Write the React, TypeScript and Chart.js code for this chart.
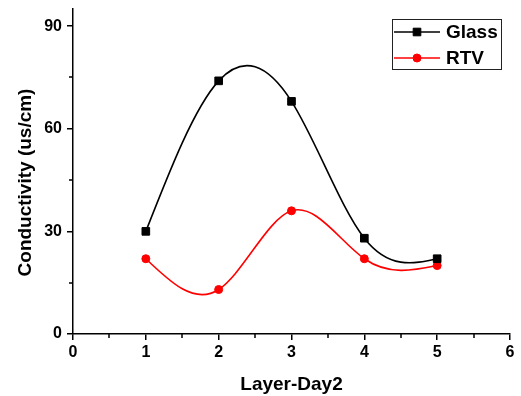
import React, { useEffect, useRef } from 'react';
import { Chart, registerables } from 'chart.js';

Chart.register(...registerables);

// ---- data ----
const days = [1, 2, 3, 4, 5];
const glassValues = [30, 74, 68, 28, 22];
const rtvValues = [22, 13, 36, 22, 20];
const xTickValues = [0, 1, 2, 3, 4, 5, 6];
const xMinorValues = [0.5, 1.5, 2.5, 3.5, 4.5, 5.5];
const yTickValues = [0, 30, 60, 90];
const yMinorValues = [15, 45, 75];
const seriesLabels = ['Glass', 'RTV'];

const FONT = "'Liberation Sans', Arial, Helvetica, sans-serif";

// natural cubic spline -> bezier control points (pixel space)
function applyNaturalSpline(points: any[]) {
  const n = points.length;
  if (n < 3) return;
  const xs = points.map((p) => p.x);
  const ys = points.map((p) => p.y);
  const h: number[] = [];
  for (let i = 0; i < n - 1; i++) h[i] = xs[i + 1] - xs[i];
  const M = new Array(n).fill(0);
  const a: number[] = [], b: number[] = [], c: number[] = [], d: number[] = [];
  for (let i = 1; i < n - 1; i++) {
    a[i] = h[i - 1];
    b[i] = 2 * (h[i - 1] + h[i]);
    c[i] = h[i];
    d[i] = 6 * ((ys[i + 1] - ys[i]) / h[i] - (ys[i] - ys[i - 1]) / h[i - 1]);
  }
  for (let i = 2; i < n - 1; i++) {
    const w = a[i] / b[i - 1];
    b[i] -= w * c[i - 1];
    d[i] -= w * d[i - 1];
  }
  M[n - 2] = d[n - 2] / b[n - 2];
  for (let i = n - 3; i >= 1; i--) M[i] = (d[i] - c[i] * M[i + 1]) / b[i];
  for (let i = 0; i < n - 1; i++) {
    const hh = h[i];
    const s = (ys[i + 1] - ys[i]) / hh;
    const d0 = s - (hh * (2 * M[i] + M[i + 1])) / 6;
    const d1 = s + (hh * (M[i] + 2 * M[i + 1])) / 6;
    points[i].cp2x = xs[i] + hh / 3;
    points[i].cp2y = ys[i] + (d0 * hh) / 3;
    points[i + 1].cp1x = xs[i + 1] - hh / 3;
    points[i + 1].cp1y = ys[i + 1] - (d1 * hh) / 3;
  }
  points[0].cp1x = xs[0];
  points[0].cp1y = ys[0];
  points[n - 1].cp2x = xs[n - 1];
  points[n - 1].cp2y = ys[n - 1];
}

const splinePlugin = {
  id: 'naturalSpline',
  beforeDatasetDraw(chart: any, args: any) {
    const meta = args.meta;
    const line = meta.dataset;
    if (!line || !line.updateControlPoints) return;
    line.updateControlPoints(chart.chartArea, meta.iScale.axis);
    applyNaturalSpline(meta.data);
    line._path = undefined;
  },
};

// shift the y-axis title a little lower than the axis centre (as in the original figure)
const yTitleShiftPlugin = {
  id: 'yTitleShift',
  afterLayout(chart: any) {
    const ys = chart.scales.y;
    if (!ys || ys._titlePatched) return;
    const orig = ys.drawTitle;
    ys.drawTitle = function () {
      const t = this.top;
      const b = this.bottom;
      this.top = t + 11;
      this.bottom = b + 11;
      orig.call(this);
      this.top = t;
      this.bottom = b;
    };
    ys._titlePatched = true;
  },
};

const minorTickPlugin = {
  id: 'minorTicks',
  afterDraw(chart: any) {
    const ctx = chart.ctx;
    const xs = chart.scales.x;
    const ys = chart.scales.y;
    const area = chart.chartArea;
    ctx.save();
    ctx.strokeStyle = '#000';
    ctx.lineWidth = 1.5;
    ctx.beginPath();
    xMinorValues.forEach((v) => {
      const px = Math.round(xs.getPixelForValue(v));
      ctx.moveTo(px, area.bottom);
      ctx.lineTo(px, area.bottom + 4);
    });
    yMinorValues.forEach((v) => {
      const py = Math.round(ys.getPixelForValue(v));
      ctx.moveTo(area.left, py);
      ctx.lineTo(area.left - 4, py);
    });
    ctx.stroke();
    ctx.restore();
  },
};

const boxLegendPlugin = {
  id: 'boxLegend',
  afterDraw(chart: any) {
    const ctx = chart.ctx;
    const area = chart.chartArea;
    const boxW = 109;
    const boxH = 50;
    const left = area.right - 9 - boxW;
    const top = area.top + 10;
    ctx.save();
    ctx.fillStyle = '#fff';
    ctx.fillRect(left, top, boxW, boxH);
    ctx.strokeStyle = '#222';
    ctx.lineWidth = 1;
    ctx.strokeRect(left + 0.5, top + 0.5, boxW, boxH);
    chart.data.datasets.forEach((ds: any, i: number) => {
      const cy = top + 13 + i * 26;
      ctx.strokeStyle = ds.borderColor;
      ctx.lineWidth = ds.borderWidth;
      ctx.beginPath();
      ctx.moveTo(left + 2, cy);
      ctx.lineTo(left + 48, cy);
      ctx.stroke();
      ctx.fillStyle = ds.pointBackgroundColor;
      ctx.strokeStyle = ds.pointBorderColor;
      ctx.lineWidth = 1;
      ctx.beginPath();
      if (ds.pointStyle === 'rect') {
        const s = Math.SQRT1_2 * ds.pointRadius;
        ctx.rect(left + 25 - s, cy - s, 2 * s, 2 * s);
      } else {
        ctx.arc(left + 25, cy, ds.pointRadius, 0, Math.PI * 2);
      }
      ctx.fill();
      ctx.stroke();
      ctx.fillStyle = '#000';
      ctx.font = `bold 19px ${FONT}`;
      ctx.textBaseline = 'middle';
      ctx.textAlign = 'left';
      ctx.fillText(ds.label, left + 54, cy + 1);
    });
    ctx.restore();
  },
};

export default function App() {
  const canvasRef = useRef<HTMLCanvasElement | null>(null);

  useEffect(() => {
    if (!canvasRef.current) return;
    const chart = new Chart(canvasRef.current, {
      type: 'line',
      data: {
        datasets: [
          {
            label: seriesLabels[0],
            data: days.map((d, i) => ({ x: d, y: glassValues[i] })),
            borderColor: '#000000',
            borderWidth: 1.6,
            pointStyle: 'rect',
            pointRadius: 5.4,
            pointBackgroundColor: '#000000',
            pointBorderColor: '#000000',
            pointBorderWidth: 1,
            tension: 0.4,
            fill: false,
          },
          {
            label: seriesLabels[1],
            data: days.map((d, i) => ({ x: d, y: rtvValues[i] })),
            borderColor: '#ff0000',
            borderWidth: 1.6,
            pointStyle: 'circle',
            pointRadius: 4,
            pointBackgroundColor: '#ff0000',
            pointBorderColor: '#ff0000',
            pointBorderWidth: 1,
            tension: 0.4,
            fill: false,
          },
        ],
      },
      options: {
        animation: false,
        responsive: true,
        maintainAspectRatio: false,
        layout: { padding: { top: 9, right: 11, left: 0, bottom: 0 } },
        plugins: {
          legend: { display: false },
          tooltip: { enabled: false },
        },
        scales: {
          x: {
            type: 'linear',
            min: 0,
            max: 6,
            afterBuildTicks: (s: any) => {
              s.ticks = xTickValues.map((v) => ({ value: v }));
            },
            afterFit: (s: any) => {
              s.height = 62;
              s.paddingLeft = 0;
              s.paddingRight = 0;
            },
            grid: {
              drawOnChartArea: false,
              drawTicks: true,
              tickLength: 6,
              color: '#000',
              lineWidth: 1.5,
            },
            border: { display: true, color: '#000', width: 1.5 },
            ticks: {
              autoSkip: false,
              maxRotation: 0,
              color: '#000',
              padding: 3,
              font: { family: FONT, size: 16, weight: 'bold' },
              callback: (v: any) => String(v),
            },
            title: {
              display: true,
              text: 'Layer-Day2',
              color: '#000',
              font: { family: FONT, size: 19, weight: 'bold' },
              padding: { top: 0, bottom: 0 },
            },
          },
          y: {
            type: 'linear',
            min: 0,
            max: 95,
            afterBuildTicks: (s: any) => {
              s.ticks = yTickValues.map((v) => ({ value: v }));
            },
            afterFit: (s: any) => {
              s.width = 73;
              s.paddingTop = 0;
              s.paddingBottom = 0;
            },
            grid: {
              drawOnChartArea: false,
              drawTicks: true,
              tickLength: 6,
              color: '#000',
              lineWidth: 1.5,
            },
            border: { display: true, color: '#000', width: 1.5 },
            ticks: {
              color: '#000',
              padding: 5,
              font: { family: FONT, size: 16, weight: 'bold' },
              callback: (v: any) => String(v),
            },
            title: {
              display: true,
              text: 'Conductivity (us/cm)',
              color: '#000',
              font: { family: FONT, size: 19, weight: 'bold' },
              padding: { top: 14, bottom: 0 },
            },
          },
        },
      },
      plugins: [splinePlugin, yTitleShiftPlugin, minorTickPlugin, boxLegendPlugin],
    } as any);
    return () => chart.destroy();
  }, []);

  return (
    <div style={{ position: 'absolute', left: 0, top: 0, width: 521, height: 396, background: '#fff' }}>
      <canvas ref={canvasRef} />
    </div>
  );
}
